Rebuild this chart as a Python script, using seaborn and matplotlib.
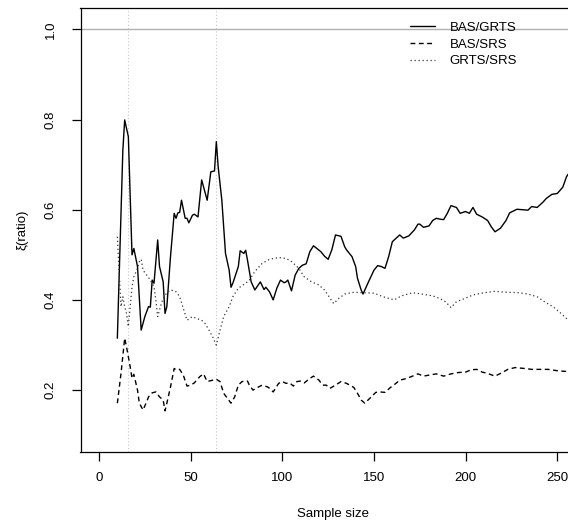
import numpy as np
import pandas as pd
import matplotlib
matplotlib.use("Agg")
import matplotlib.pyplot as plt
import seaborn as sns

# sample size vs efficiency ratio
n_bas_grts = [10, 13, 14, 16, 18, 19, 21, 23, 25, 27, 28, 29, 30, 32, 33, 35, 36, 37, 39, 41,
              42, 43, 44, 45, 47, 48, 49, 51, 52, 54, 56, 57, 59, 61, 63, 64, 65, 67, 69, 71,
              72, 73, 76, 77, 79, 80, 81, 83, 85, 88, 90, 91, 93, 95, 97, 99, 101, 102, 103, 105,
              107, 109, 111, 113, 115, 117, 121, 123, 125, 127, 129, 132, 134, 135, 138, 140, 141, 143, 144, 147,
              150, 152, 154, 156, 158, 160, 164, 166, 169, 172, 174, 175, 177, 180, 182, 184, 186, 188, 190, 192,
              195, 197, 200, 202, 204, 206, 209, 212, 214, 216, 219, 222, 224, 228, 231, 234, 236, 239, 242, 244,
              247, 250, 253, 255, 256]
bas_grts = [0.315, 0.732, 0.799, 0.762, 0.500, 0.514, 0.474, 0.333, 0.363, 0.385, 0.384, 0.444, 0.437, 0.533, 0.474, 0.440, 0.370, 0.385, 0.496, 0.592,
            0.581, 0.593, 0.594, 0.621, 0.581, 0.581, 0.571, 0.588, 0.590, 0.584, 0.666, 0.651, 0.621, 0.684, 0.686, 0.751, 0.695, 0.621, 0.503, 0.466,
            0.428, 0.437, 0.474, 0.509, 0.503, 0.510, 0.488, 0.440, 0.422, 0.440, 0.423, 0.428, 0.418, 0.400, 0.426, 0.444, 0.438, 0.440, 0.444, 0.420,
            0.455, 0.470, 0.477, 0.480, 0.507, 0.520, 0.507, 0.497, 0.490, 0.511, 0.544, 0.541, 0.518, 0.511, 0.496, 0.474, 0.448, 0.422, 0.413, 0.440,
            0.466, 0.476, 0.474, 0.470, 0.496, 0.529, 0.544, 0.537, 0.542, 0.555, 0.568, 0.568, 0.561, 0.564, 0.576, 0.581, 0.579, 0.578, 0.592, 0.609,
            0.605, 0.592, 0.596, 0.592, 0.605, 0.590, 0.584, 0.576, 0.562, 0.551, 0.559, 0.576, 0.593, 0.601, 0.600, 0.599, 0.607, 0.605, 0.616, 0.625,
            0.634, 0.636, 0.650, 0.673, 0.679]

n_bas_srs = [10, 12, 14, 15, 17, 18, 19, 21, 22, 24, 26, 27, 29, 31, 33, 35, 36, 37, 39, 41,
             42, 44, 46, 48, 50, 52, 55, 57, 59, 62, 64, 66, 68, 70, 72, 74, 76, 78, 81, 82,
             84, 87, 89, 92, 93, 95, 98, 100, 102, 104, 106, 108, 110, 112, 115, 117, 120, 122, 124, 126,
             129, 132, 135, 139, 141, 143, 145, 148, 151, 153, 156, 159, 162, 164, 168, 171, 174, 177, 181, 184,
             188, 192, 196, 200, 203, 206, 209, 212, 216, 220, 223, 227, 232, 236, 241, 245, 250, 256]
bas_srs = [0.171, 0.237, 0.315, 0.296, 0.252, 0.226, 0.235, 0.200, 0.171, 0.156, 0.174, 0.185, 0.194, 0.196, 0.185, 0.178, 0.154, 0.171, 0.207, 0.248,
           0.245, 0.246, 0.233, 0.209, 0.211, 0.216, 0.230, 0.236, 0.219, 0.222, 0.224, 0.219, 0.193, 0.182, 0.171, 0.185, 0.211, 0.219, 0.220, 0.211,
           0.200, 0.207, 0.211, 0.207, 0.204, 0.196, 0.215, 0.219, 0.215, 0.216, 0.209, 0.219, 0.220, 0.216, 0.226, 0.231, 0.222, 0.211, 0.211, 0.204,
           0.211, 0.219, 0.215, 0.206, 0.193, 0.178, 0.171, 0.183, 0.195, 0.196, 0.195, 0.206, 0.215, 0.222, 0.226, 0.231, 0.236, 0.231, 0.234, 0.236,
           0.231, 0.236, 0.239, 0.240, 0.245, 0.246, 0.240, 0.237, 0.231, 0.239, 0.246, 0.250, 0.248, 0.246, 0.246, 0.246, 0.243, 0.241]

n_grts_srs = [10, 11, 12, 13, 14, 15, 16, 18, 19, 21, 22, 23, 24, 26, 28, 30, 31, 32, 34, 35,
              37, 39, 41, 42, 44, 46, 48, 51, 53, 56, 58, 60, 62, 64, 66, 68, 71, 73, 76, 80,
              82, 85, 89, 93, 98, 102, 105, 109, 112, 116, 120, 123, 126, 128, 131, 134, 139, 144, 150, 155,
              161, 165, 171, 176, 182, 186, 189, 192, 195, 200, 204, 210, 216, 222, 229, 234, 239, 243, 248, 252,
              256]
grts_srs = [0.540, 0.459, 0.385, 0.407, 0.385, 0.370, 0.341, 0.429, 0.451, 0.470, 0.485, 0.490, 0.466, 0.455, 0.444, 0.429, 0.400, 0.363, 0.392, 0.403,
            0.416, 0.422, 0.420, 0.418, 0.407, 0.381, 0.355, 0.363, 0.359, 0.355, 0.347, 0.333, 0.318, 0.300, 0.333, 0.363, 0.385, 0.407, 0.426, 0.437,
            0.444, 0.463, 0.481, 0.490, 0.494, 0.492, 0.485, 0.470, 0.451, 0.440, 0.433, 0.422, 0.404, 0.392, 0.404, 0.413, 0.417, 0.416, 0.415, 0.407,
            0.400, 0.409, 0.416, 0.413, 0.409, 0.403, 0.396, 0.383, 0.396, 0.404, 0.411, 0.416, 0.419, 0.417, 0.416, 0.413, 0.407, 0.396, 0.384, 0.370,
            0.355]

series_labels = ["BAS/GRTS", "BAS/SRS", "GRTS/SRS"]
x_ticks = [0, 50, 100, 150, 200, 250]
y_ticks = [0.2, 0.4, 0.6, 0.8, 1.0]
ref_h = 1.0
ref_v = [16, 64]

sns.set_style("ticks")
plt.rcParams['font.family'] = ['Liberation Sans', 'DejaVu Sans']
plt.rcParams['text.color'] = 'black'
plt.rcParams['axes.labelcolor'] = 'black'
fs = 9.5

W, H = 568, 522
fig = plt.figure(figsize=(W / 100, H / 100), dpi=100)
# axes run past the right edge of the figure, like the cropped reference
ax = fig.add_axes([80.5 / W, 1 - 451.5 / H, 504.3 / W, 443.8 / H])

ax.axhline(ref_h, color="#b0b0b0", lw=1.0, zorder=1)
for v in ref_v:
    ax.axvline(v, color="#c8c8c8", lw=0.8, ls=(0, (1, 2)), zorder=1)

sns.lineplot(x=n_bas_grts, y=bas_grts, ax=ax, color="black", lw=1.0,
             estimator=None, sort=False, label=series_labels[0])
sns.lineplot(x=n_bas_srs, y=bas_srs, ax=ax, color="black", lw=1.0,
             estimator=None, sort=False, label=series_labels[1])
sns.lineplot(x=n_grts_srs, y=grts_srs, ax=ax, color="#333333", lw=0.9,
             estimator=None, sort=False, label=series_labels[2])
lines = ax.get_lines()[-3:]
lines[1].set_linestyle((0, (3.5, 2.5)))
lines[2].set_linestyle((0, (1, 2.2)))

ax.set_xlim(-10.1, 265)
ax.set_ylim(0.0639, 1.0479)
ax.set_xticks(x_ticks)
ax.set_yticks(y_ticks)
ax.set_xticklabels([str(t) for t in x_ticks])
ax.set_yticklabels([f"{t:.1f}" for t in y_ticks], rotation=90, va="center")

for s in ax.spines.values():
    s.set_linewidth(0.9)
    s.set_color("black")
    s.set_visible(True)
ax.tick_params(axis="both", length=6.5, width=0.9, labelsize=fs, colors="black")
ax.tick_params(axis="x", pad=8.5)
ax.tick_params(axis="y", pad=10.5)

ax.set_xlabel("Sample size", fontsize=fs, labelpad=17)
ax.set_ylabel("ξ(ratio)", fontsize=fs, labelpad=12)

ax.legend(handles=lines, labels=series_labels, frameon=False, fontsize=fs,
          loc="upper left", bbox_to_anchor=(410 / W, 1 - 21.5 / H),
          bbox_transform=fig.transFigure, borderpad=0, borderaxespad=0,
          handlelength=1.9, handletextpad=1.1, labelspacing=0.35)

fig.savefig("out.png", dpi=100)
